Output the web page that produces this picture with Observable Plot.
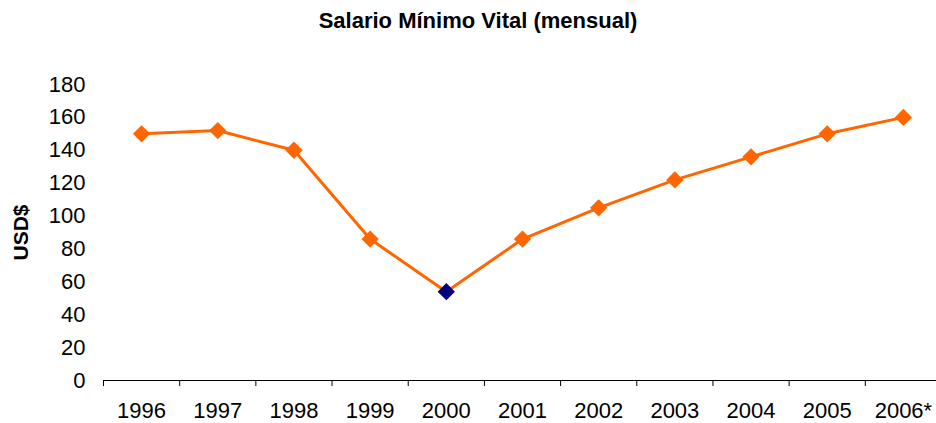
<!DOCTYPE html>
<html>
<head>
<meta charset="utf-8">
<script src="https://cdn.jsdelivr.net/npm/d3@7"></script>
<script src="https://cdn.jsdelivr.net/npm/@observablehq/plot@0.6"></script>
<style>
  body { margin: 0; background: #fff; font-family: "Liberation Sans", Arial, sans-serif; }
  #title { height: 40px; line-height: 42px; text-align: center; font-weight: bold; font-size: 22px; color: #000; padding-left: 20px; }
  svg { display: block; }
</style>
</head>
<body>
<div id="title">Salario Mínimo Vital (mensual)</div>
<div id="chart"></div>
<script>
const years = ["1996", "1997", "1998", "1999", "2000", "2001", "2002", "2003", "2004", "2005", "2006*"];
const values = [150, 152, 140, 86, 54, 86, 105, 122, 136, 150, 160];
const highlightYear = "2000";
const yTicks = [0, 20, 40, 60, 80, 100, 120, 140, 160, 180];

const data = years.map((y, i) => ({ i, year: y, value: values[i], hi: y === highlightYear }));
const boundaries = d3.range(years.length + 1).map(k => k - 0.5);

const chart = Plot.plot({
  width: 936,
  height: 383,
  marginTop: 44,
  marginBottom: 43,
  marginLeft: 103,
  marginRight: 0,
  style: { fontFamily: "Liberation Sans, Arial, sans-serif", fontSize: "22px", color: "#000", background: "#fff" },
  x: { type: "linear", domain: [-0.5, years.length - 0.5], range: [103, 941] },
  y: { domain: [0, 180] },
  marks: [
    Plot.axisY({ ticks: yTicks, tickSize: 0, tickPadding: 18, fontSize: 22, label: "USD$", labelAnchor: "center", labelArrow: "none", labelOffset: 90 }),
    Plot.axisX({ ticks: boundaries, tickSize: 6, tickFormat: () => "", label: null, stroke: "#000" }),
    Plot.axisX({ ticks: d3.range(years.length), tickSize: 0, tickPadding: 22, tickFormat: i => years[i], fontSize: 22, label: null }),
    Plot.ruleY([0], { stroke: "#000", strokeWidth: 1 }),
    Plot.line(data, { x: "i", y: "value", stroke: "#FF6600", strokeWidth: 3 }),
    Plot.dot(data, { x: "i", y: "value", symbol: "diamond2", r: 7.8, fill: d => d.hi ? "#000080" : "#FF6600", stroke: "none" })
  ]
});
document.getElementById("chart").appendChild(chart);
// bold axis label
chart.querySelectorAll("g[aria-label='y-axis label'] text").forEach(t => { t.style.fontWeight = "bold"; t.style.fontSize = "21px"; });
</script>
</body>
</html>
